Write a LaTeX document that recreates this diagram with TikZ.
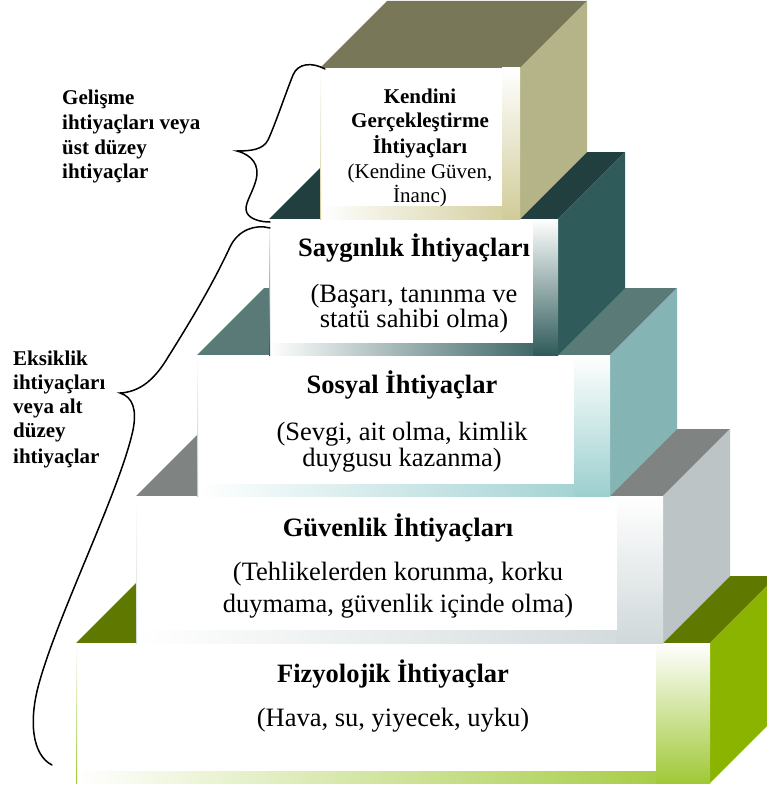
\documentclass[tikz,border=0pt]{standalone}
\usepackage{fontspec}
\setmainfont{Liberation Serif}
\definecolor{topa}{HTML}{787858}\definecolor{sidea}{HTML}{B4B488}\definecolor{facea}{HTML}{D0CC98}
\definecolor{topb}{HTML}{213F3E}\definecolor{sideb}{HTML}{2F5B5A}\definecolor{faceb}{HTML}{2F5B5A}
\definecolor{topc}{HTML}{5A7A78}\definecolor{sidec}{HTML}{85B4B4}\definecolor{facec}{HTML}{9CCFCF}
\definecolor{topd}{HTML}{7F8482}\definecolor{sided}{HTML}{BCC4C5}\definecolor{faced}{HTML}{D0D8DA}
\definecolor{tope}{HTML}{5E7800}\definecolor{sidee}{HTML}{8AB400}\definecolor{facee}{HTML}{A0C838}
% #1 L, #2 T, #3 R, #4 B, #5 top, #6 side, #7 face, #8 inner right, #9 inner bottom
\newcommand{\pyrblock}[9]{%
  \fill[#5] (#1,#2) -- (#3,#2) -- ({#3+67},{#2-67}) -- ({#1+67},{#2-67}) -- cycle;
  \fill[#6] (#3,#2) -- ({#3+67},{#2-67}) -- ({#3+67},{#4-67}) -- (#3,#4) -- cycle;
  \fill[white] (#1,#2) rectangle (#3,#4);
  \shade[left color=white, middle color=#7!28!white, right color=#7] (#1,#9) rectangle (#3,#4);
  \shade[top color=white, middle color=#7!35!white, bottom color=#7] (#8,#2) rectangle (#3,#4);
  \shade[top color=white, bottom color=#7] (#1,#2) rectangle ({#1+1.2},#4);
  \fill[white] ({#1+12},{#2+10}) rectangle (#8,#9);
}
\tikzset{
  lbl/.style={font=\bfseries\fontsize{21}{24}\selectfont, anchor=base west, inner sep=0pt},
  ktl/.style={font=\bfseries\fontsize{21}{24}\selectfont, anchor=base, inner sep=0pt},
  ksub/.style={font=\fontsize{21}{24}\selectfont, anchor=base, inner sep=0pt},
  ttl/.style={font=\bfseries\fontsize{26.5}{30}\selectfont, anchor=base, inner sep=0pt},
  sub/.style={font=\fontsize{26.5}{30}\selectfont, anchor=base, inner sep=0pt},
  bracestyle/.style={line width=1.5pt, black, line cap=round}
}
\begin{document}
\begin{tikzpicture}[x=1pt,y=-1pt]
\clip (0,0) rectangle (767,789);
\fill[white] (0,0) rectangle (767,789);
% blocks from bottom to top
\pyrblock{76}{643}{710}{783}{tope}{sidee}{facee}{656}{771}
\pyrblock{136}{496}{663}{643}{topd}{sided}{faced}{617}{630}
\pyrblock{197}{355}{610}{496}{topc}{sidec}{facec}{574}{484}
\pyrblock{269}{219}{558}{355}{topb}{sideb}{faceb}{533}{343}
\pyrblock{320}{68}{520}{219}{topa}{sidea}{facea}{502}{206}
% top block text
\node[ktl] (k1) at (420,103) {Kendini};
\node[ktl] (k2) at (420,128) {Gerçekleştirme};
\node[ktl] (k3) at (420,153) {İhtiyaçları};
\node[ksub] (k4) at (420,178) {(Kendine Güven,};
\node[ksub] (k5) at (420,202) {İnanc)};
% Saygınlık
\node[ttl] (s1) at (414,256) {Saygınlık İhtiyaçları};
\node[sub] (s2) at (414,302) {(Başarı, tanınma ve};
\node[sub] (s3) at (414,327) {statü sahibi olma)};
% Sosyal
\node[ttl] (o1) at (402,393) {Sosyal İhtiyaçlar};
\node[sub] (o2) at (402,440) {(Sevgi, ait olma, kimlik};
\node[sub] (o3) at (402,466) {duygusu kazanma)};
% Güvenlik
\node[ttl] (g1) at (398,536) {Güvenlik İhtiyaçları};
\node[sub] (g2) at (398,580) {(Tehlikelerden korunma, korku};
\node[sub] (g3) at (398,612) {duymama, güvenlik içinde olma)};
% Fizyolojik
\node[ttl] (f1) at (393,682) {Fizyolojik İhtiyaçlar};
\node[sub] (f2) at (393,726) {(Hava, su, yiyecek, uyku)};
% left labels
\node[lbl] (u1) at (62,105) {Gelişme};
\node[lbl] (u2) at (62,129) {ihtiyaçları veya};
\node[lbl] (u3) at (62,154) {üst düzey};
\node[lbl] (u4) at (62,178) {ihtiyaçlar};
\node[lbl] (e1) at (13,365) {Eksiklik};
\node[lbl] (e2) at (13,389) {ihtiyaçları};
\node[lbl] (e3) at (13,413) {veya alt};
\node[lbl] (e4) at (13,437) {düzey};
\node[lbl] (e5) at (13,463) {ihtiyaçlar};
% braces
\draw[bracestyle] (325,69) .. controls (312,62) and (298,63) .. (293,75)
  .. controls (285,95) and (275,125) .. (268,140)
  .. controls (263,150) and (250,151) .. (237,151)
  .. controls (252,155) and (260,165) .. (256,180)
  .. controls (252,195) and (243,205) .. (247,213)
  .. controls (250,219) and (260,222) .. (270,222);
\draw[bracestyle] (270,228) .. controls (255,224) and (238,230) .. (230,247)
  .. controls (210,290) and (185,330) .. (165,362)
  .. controls (152,382) and (138,392) .. (120,393)
  .. controls (133,397) and (137,410) .. (133,430)
  .. controls (120,490) and (60,610) .. (40,680)
  .. controls (28,720) and (32,755) .. (52,765);
\end{tikzpicture}
\end{document}
